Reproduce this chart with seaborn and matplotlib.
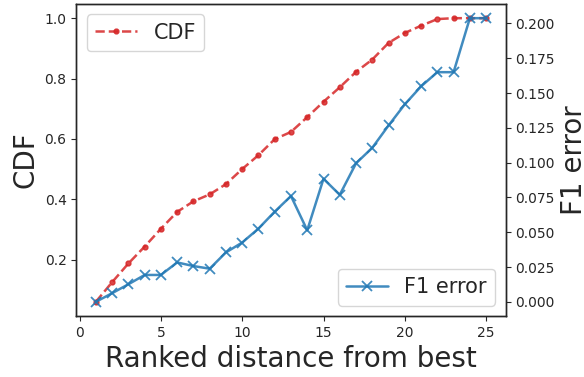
import matplotlib
matplotlib.use("Agg")
import matplotlib.pyplot as plt
import seaborn as sns
import numpy as np

rank = list(range(1, 26))
cdf = [0.06, 0.125, 0.187, 0.243, 0.302, 0.358, 0.393, 0.416, 0.450, 0.500,
       0.546, 0.599, 0.623, 0.672, 0.723, 0.771, 0.822, 0.863, 0.918, 0.951,
       0.975, 0.997, 1.0, 1.0, 1.0]
f1_err = [0.0, 0.0062, 0.0126, 0.0193, 0.0193, 0.0283, 0.0257, 0.0238, 0.0355, 0.0426,
          0.0526, 0.0648, 0.0760, 0.0514, 0.0884, 0.0769, 0.0995, 0.1107, 0.1267, 0.1419,
          0.1548, 0.165, 0.165, 0.2038, 0.2038]

sns.set_style("ticks")
plt.rcParams['font.family'] = ['DejaVu Sans']

fig = plt.figure(figsize=(5.84, 3.77), dpi=100)
ax = fig.add_axes([0.1307, 0.1618, 0.8658 - 0.1307, 0.9894 - 0.1618])
ax2 = ax.twinx()

sns.lineplot(x=rank, y=cdf, ax=ax, color="#d62728", linestyle="--", marker=".",
             markersize=7, markeredgecolor="#d62728", markeredgewidth=1,
             alpha=0.85, label="CDF", linewidth=1.8)
sns.lineplot(x=rank, y=f1_err, ax=ax2, color="#1f77b4", marker="x",
             markersize=7, markeredgecolor="#1f77b4", markeredgewidth=1.3,
             alpha=0.85, label="F1 error", linewidth=1.8)

ax.set_xlabel("Ranked distance from best", fontsize=20, labelpad=4)
ax.set_ylabel("CDF", fontsize=20, labelpad=4)
ax2.set_ylabel("F1 error", fontsize=20, labelpad=4)
for a in (ax, ax2):
    a.tick_params(labelsize=10, length=3.5, width=0.8, pad=3.5, colors="#262626")
ax.set_xticks([0, 5, 10, 15, 20, 25])
ax.set_yticks([0.2, 0.4, 0.6, 0.8, 1.0])
ax2.set_yticks([0.0, 0.025, 0.05, 0.075, 0.1, 0.125, 0.15, 0.175, 0.2])
ax2.set_yticklabels(["0.000", "0.025", "0.050", "0.075", "0.100", "0.125", "0.150", "0.175", "0.200"])
for a in (ax, ax2):
    for s in a.spines.values():
        s.set_visible(True)
        s.set_color("#262626")
        s.set_linewidth(1.0)

ax.legend(loc="upper left", fontsize=15)
ax2.legend(loc="lower right", fontsize=15)

fig.savefig("out.png", dpi=100)
